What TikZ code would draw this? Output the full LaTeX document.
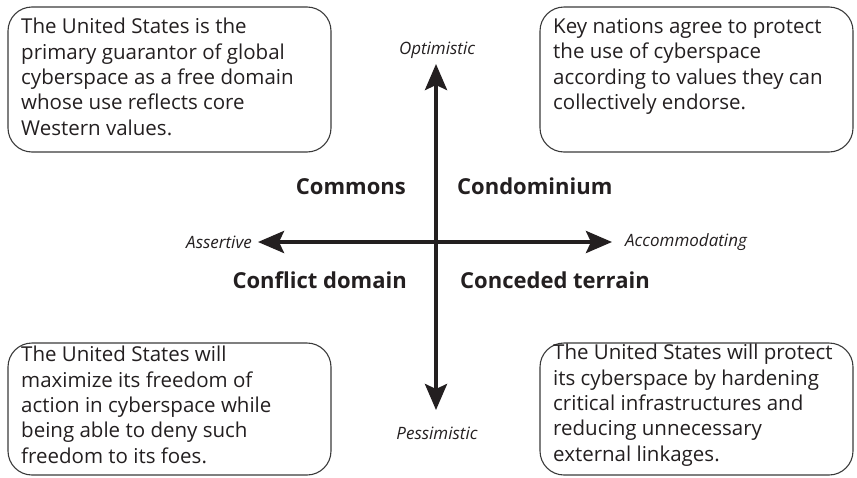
\documentclass[tikz,border=0pt]{standalone}
\usepackage{fontspec}
\setmainfont{Open Sans}
\usetikzlibrary{arrows.meta}
\definecolor{ink}{HTML}{231F20}
\definecolor{boxline}{HTML}{3A3A3A}
\tikzset{
  scenario/.style={draw=boxline, line width=1.1pt, rounded corners=24pt},
  boxtext/.style={anchor=north west, inner sep=0pt, align=left, text=ink,
    font=\fontsize{20.5}{25.4}\selectfont},
  quadlabel/.style={inner sep=0pt, text=ink, font=\fontsize{22}{24}\selectfont\bfseries},
  axislabel/.style={inner sep=0pt, text=ink, font=\fontsize{17}{19}\selectfont\itshape},
  axis/.style={draw=ink, line width=4pt, -{Stealth[length=26pt,width=22pt,inset=5pt]}}
}
\begin{document}
\begin{tikzpicture}[x=1pt,y=-1pt]
\useasboundingbox (0,0) rectangle (857,477);
% scenario boxes
\draw[scenario] (8,7) rectangle (331,152);
\draw[scenario] (540,7) rectangle (853,152);
\draw[scenario] (8,343) rectangle (331,475);
\draw[scenario] (540,343) rectangle (853,475);
\node[boxtext] (tl) at (21,18) {The United States is the\\primary guarantor of global\\cyberspace as a free domain\\whose use reflects core\\Western values.};
\node[boxtext] (tr) at (553,18) {Key nations agree to protect\\the use of cyberspace\\according to values they can\\collectively endorse.};
\node[boxtext] (bl) at (21,346) {The United States will\\maximize its freedom of\\action in cyberspace while\\being able to deny such\\freedom to its foes.};
\node[boxtext] (br) at (553,344) {The United States will protect\\its cyberspace by hardening\\critical infrastructures and\\reducing unnecessary\\external linkages.};
% axes
\coordinate (c) at (436,242);
\coordinate (up) at (436,64);
\coordinate (down) at (436,410);
\coordinate (lft) at (258,242);
\coordinate (rgt) at (612,242);
\draw[axis] (c) -- (up);
\draw[axis] (c) -- (down);
\draw[axis] (c) -- (lft);
\draw[axis] (c) -- (rgt);
% axis labels
\node[axislabel] (opt) at (437,50) {Optimistic};
\node[axislabel] (pes) at (437,433) {Pessimistic};
\node[axislabel, anchor=east] (ass) at (252,242) {Assertive};
\node[axislabel, anchor=west] (acc) at (625,242) {Accommodating};
% quadrant labels
\node[quadlabel, anchor=base east] (commons) at (406,194) {Commons};
\node[quadlabel, anchor=base west] (condo) at (457,194) {Condominium};
\node[quadlabel, anchor=base east] (conflict) at (407,288) {Conflict domain};
\node[quadlabel, anchor=base west] (conceded) at (460,288) {Conceded terrain};
\end{tikzpicture}
\end{document}
